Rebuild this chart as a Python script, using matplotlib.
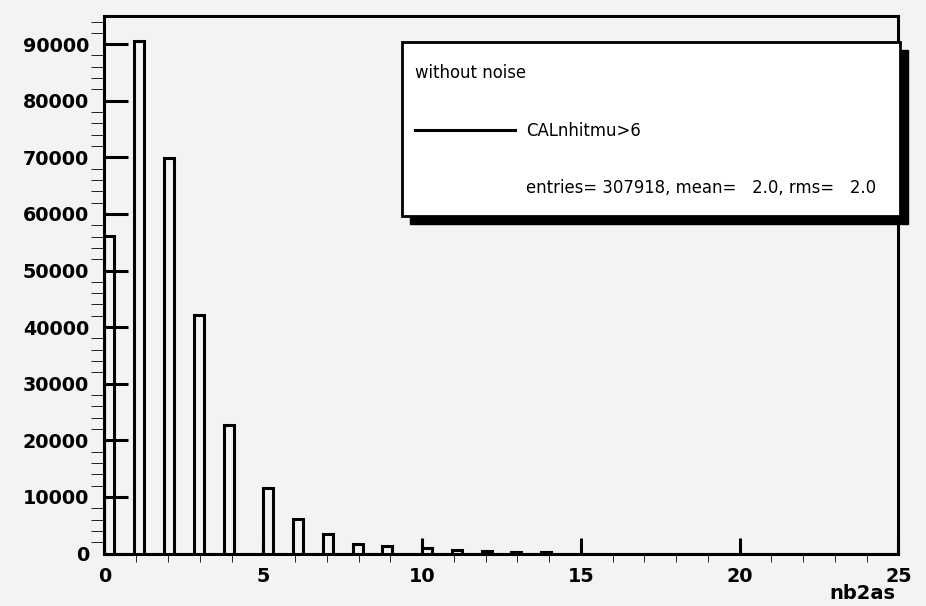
import numpy as np
import matplotlib.pyplot as plt
from matplotlib.patches import Rectangle
from matplotlib.lines import Line2D
from matplotlib.ticker import MultipleLocator

# counts of events per nb2as value (integer valued variable)
nb2as_values = np.arange(15)
nb2as_counts = [56150, 90500, 69800, 42200, 22700, 11650, 6150, 3500,
                1700, 1250, 900, 600, 400, 300, 200]
n_bins = 80
x_range = (0, 25)

legend_title = "without noise"
legend_label = "CALnhitmu>6"
n_entries = 307918
mean_val = 2.0
rms_val = 2.0

bg = '#f5f2f5'
lw = 2.2

counts, edges = np.histogram(nb2as_values, bins=n_bins, range=x_range,
                             weights=nb2as_counts)

fig = plt.figure(figsize=(9.26, 6.06), dpi=100, facecolor=bg)
ax = fig.add_axes([0.11285, 0.08663, 0.85745, 0.88746])
ax.set_facecolor(bg)

ax.stairs(counts, edges, baseline=0, fill=False, color='black',
          linewidth=lw, zorder=3)

ax.set_xlim(*x_range)
ax.set_ylim(0, 1.05 * counts.max())

for s in ax.spines.values():
    s.set_linewidth(lw)
    s.set_color('black')

ax.xaxis.set_major_locator(MultipleLocator(5))
ax.xaxis.set_minor_locator(MultipleLocator(1))
ax.yaxis.set_major_locator(MultipleLocator(10000))
ax.yaxis.set_minor_locator(MultipleLocator(2000))

ax.tick_params(direction='in', top=False, right=False, width=lw,
               color='black')
ax.tick_params(axis='y', which='major', length=17.3, pad=11)
ax.tick_params(axis='y', which='minor', length=9.4)
ax.tick_params(axis='x', which='major', length=11.3, pad=10)
ax.tick_params(axis='x', which='minor', length=5.8)

for lab in ax.get_xticklabels() + ax.get_yticklabels():
    lab.set_family('DejaVu Sans')
    lab.set_fontweight('bold')
    lab.set_fontsize(13.8)

fig.text(895 / 926, 1 - 599 / 606, 'nb2as', ha='right', va='baseline',
         fontsize=14, fontweight='bold', family='DejaVu Sans')

# legend box with drop shadow
bx, by = 402.3 / 926, 1 - 215.7 / 606
bw, bh = (900 - 402.3) / 926, (215.7 - 42.3) / 606
fig.patches.append(Rectangle((bx + 8 / 926, by - 8 / 606), bw, bh,
                             transform=fig.transFigure, facecolor='black',
                             edgecolor='black', zorder=5))
fig.patches.append(Rectangle((bx, by), bw, bh, transform=fig.transFigure,
                             facecolor='white', edgecolor='black',
                             linewidth=2.0, zorder=6))

fig.text(415 / 926, 1 - 78.3 / 606, legend_title, fontsize=11.9,
         va='baseline', ha='left', zorder=7)
fig.lines.append(Line2D([415 / 926, 515 / 926], [1 - 130 / 606] * 2,
                        transform=fig.transFigure, color='black',
                        linewidth=lw, zorder=7))
fig.text(526 / 926, 1 - 136 / 606, legend_label, fontsize=11.9,
         va='baseline', ha='left', zorder=7)
fig.text(526 / 926, 1 - 193.3 / 606,
         f"entries= {n_entries}, mean= {mean_val:5.1f}, rms= {rms_val:5.1f}",
         fontsize=11.9, va='baseline', ha='left', zorder=7)

fig.savefig('out.png', dpi=100, facecolor=bg)
